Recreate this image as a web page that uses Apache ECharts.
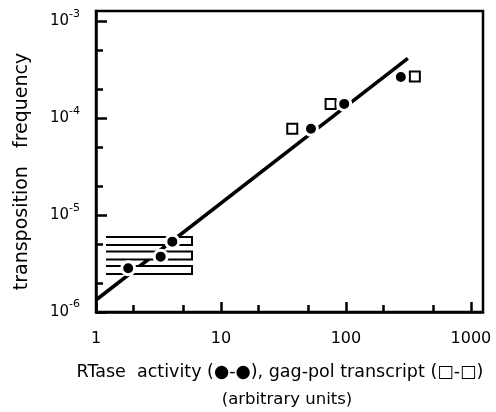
<!DOCTYPE html>
<html>
<head>
<meta charset="utf-8">
<script src="https://cdn.jsdelivr.net/npm/echarts@6/dist/echarts.min.js"></script>
<style>html,body{margin:0;padding:0;background:#fff;}#c{width:496px;height:412px;}</style>
</head>
<body>
<div id="c"></div>
<script>
// RTase activity (filled circles)
const rtaseX = [1.81, 3.29, 4.08, 52.5, 96.9, 275];
const rtaseY = [2.83e-6, 3.73e-6, 5.33e-6, 7.8e-5, 1.41e-4, 2.67e-4];
// gag-pol transcript (open squares); the three low ones are smeared boxes in the figure
const transcriptX = [5.35, 5.35, 5.35, 37.2, 75.4, 356];
const transcriptY = [2.72e-6, 3.84e-6, 5.42e-6, 7.8e-5, 1.41e-4, 2.7e-4];
// fitted line
const fitX = [1, 313];
const fitY = [1.33e-6, 4.16e-4];
// axis ranges and tick marks
const xMin = 1, xMax = 1250;
const yMin = 1e-6, yMax = 1.284e-3;
const minorMultipliers = [2, 5];
const yAxisTitle = 'transposition   frequency';
const xTitleLine1 = 'RTase  activity (\u25CF-\u25CF), gag-pol transcript (\u25A1-\u25A1)';
const xTitleLine2 = '(arbitrary units)';

const FONT = 'DejaVu Sans';
const lg = Math.log10;
function minorTicks(lo, hi) {
  const out = [];
  for (let e = Math.floor(lg(lo)); e <= Math.ceil(lg(hi)); e++) {
    minorMultipliers.forEach(m => {
      const v = e + lg(m);
      if (v > lg(lo) && v < lg(hi)) out.push(v);
    });
  }
  return out;
}
const zip = (a, b) => a.map((v, i) => [v, b[i]]);
const transcriptPts = zip(transcriptX, transcriptY);

const chart = echarts.init(document.getElementById('c'), null, {renderer: 'canvas'});
chart.setOption({
  animation: false,
  backgroundColor: '#fff',
  grid: {left: 96, right: 13, top: 11, bottom: 100, show: true, borderColor: '#000', borderWidth: 2.5, backgroundColor: 'transparent'},
  xAxis: [
    {type: 'log', min: xMin, max: xMax, logBase: 10, position: 'bottom',
     axisLine: {lineStyle: {color: '#000', width: 2.5}},
     axisTick: {inside: true, length: 10, lineStyle: {color: '#000', width: 2.5}},
     splitLine: {show: false},
     axisLabel: {showMaxLabel: false, margin: 19, color: '#000', fontFamily: FONT, fontSize: 16,
       formatter: v => String(Math.round(v))}},
    {type: 'value', min: lg(xMin), max: lg(xMax), position: 'bottom',
     axisLine: {show: false},
     axisTick: {inside: true, length: 7, customValues: minorTicks(xMin, xMax), lineStyle: {color: '#000', width: 2.5}},
     axisLabel: {show: false}, splitLine: {show: false}}
  ],
  yAxis: [
    {type: 'log', min: yMin, max: yMax, logBase: 10, position: 'left',
     name: yAxisTitle, nameLocation: 'middle', nameGap: 64, nameRotate: 90,
     nameTextStyle: {fontFamily: FONT, fontSize: 19, color: '#000', padding: [0, 20, 0, 0]},
     axisLine: {lineStyle: {color: '#000', width: 2.5}},
     axisTick: {inside: true, length: 11, lineStyle: {color: '#000', width: 2.5}},
     splitLine: {show: false},
     axisLabel: {showMaxLabel: false, margin: 16, color: '#000',
       formatter: v => '{b|10}{s|' + Math.round(lg(v)) + '}',
       rich: {b: {fontFamily: FONT, fontSize: 15, color: '#000'},
              s: {fontFamily: FONT, fontSize: 11, color: '#000', padding: [0, 0, 15, 0]}}}},
    {type: 'value', min: lg(yMin), max: lg(yMax), position: 'left',
     axisLine: {show: false},
     axisTick: {inside: true, length: 7, customValues: minorTicks(yMin, yMax), lineStyle: {color: '#000', width: 2.5}},
     axisLabel: {show: false}, splitLine: {show: false}}
  ],
  graphic: [
    {type: 'text', x: 280, y: 372, style: {text: xTitleLine1, font: '17.5px "' + FONT + '"', fill: '#000', textAlign: 'center', textVerticalAlign: 'middle'}},
    {type: 'text', x: 287, y: 400, style: {text: xTitleLine2, font: '16.5px "' + FONT + '"', fill: '#000', textAlign: 'center', textVerticalAlign: 'middle'}}
  ],
  series: [
    {type: 'line', xAxisIndex: 0, yAxisIndex: 0, data: zip(fitX, fitY), showSymbol: false, symbol: 'none',
     lineStyle: {color: '#000', width: 3.5}, z: 1},
    {type: 'custom', xAxisIndex: 0, yAxisIndex: 0, data: transcriptPts.slice(0, 3), z: 2,
     renderItem: (params, api) => {
       const p = api.coord([api.value(0), api.value(1)]);
       const x0 = p[0] - 81, x1 = p[0] + 5, h = 4;
       return {type: 'group', children: [
         {type: 'rect', shape: {x: x0, y: p[1] - h, width: x1 - x0, height: 2 * h}, style: {fill: '#fff'}},
         {type: 'polyline', shape: {points: [[x0, p[1] - h], [x1, p[1] - h], [x1, p[1] + h], [x0, p[1] + h]]},
          style: {stroke: '#000', lineWidth: 2, fill: null}}
       ]};
     }},
    {type: 'scatter', xAxisIndex: 0, yAxisIndex: 0, data: transcriptPts.slice(3), symbol: 'rect', symbolSize: 10,
     itemStyle: {color: '#fff', borderColor: '#000', borderWidth: 2, opacity: 1}, z: 2},
    {type: 'scatter', xAxisIndex: 0, yAxisIndex: 0, data: zip(rtaseX, rtaseY), symbol: 'circle', symbolSize: 13,
     itemStyle: {color: '#000', borderColor: '#fff', borderWidth: 3, opacity: 1}, z: 3}
  ]
});
</script>
</body>
</html>
